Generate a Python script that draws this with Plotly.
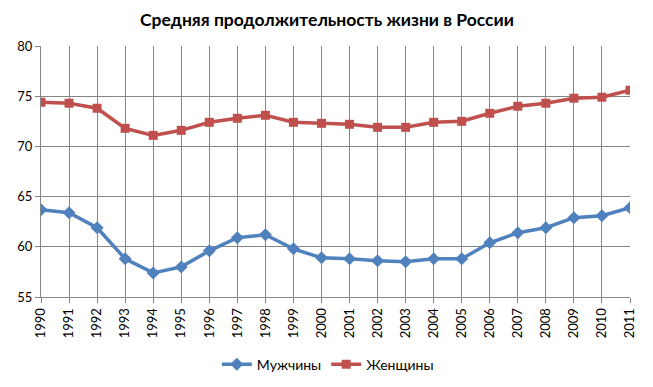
import plotly.graph_objects as go

years = list(range(1990, 2012))
men = [63.7, 63.4, 61.9, 58.8, 57.4, 58.0, 59.6, 60.9, 61.2, 59.8, 58.9,
       58.8, 58.6, 58.5, 58.8, 58.8, 60.4, 61.4, 61.9, 62.9, 63.1, 63.9]
women = [74.4, 74.3, 73.8, 71.8, 71.1, 71.6, 72.4, 72.8, 73.1, 72.4, 72.3,
         72.2, 71.9, 71.9, 72.4, 72.5, 73.3, 74.0, 74.3, 74.8, 74.9, 75.6]
title = "Средняя продолжительность жизни в России"
font = "Lato, Liberation Sans, sans-serif"

fig = go.Figure()
fig.add_trace(go.Scatter(x=years, y=men, name="Мужчины", mode="lines+markers",
                         line=dict(color="#4F81BD", width=3.5),
                         marker=dict(symbol="diamond", size=10, color="#4F81BD")))
fig.add_trace(go.Scatter(x=years, y=women, name="Женщины", mode="lines+markers",
                         line=dict(color="#C0504D", width=3.5),
                         marker=dict(symbol="square", size=9, color="#C0504D")))

fig.update_layout(
    width=653, height=387,
    margin=dict(l=41, r=23, t=46, b=90, autoexpand=False),
    paper_bgcolor="white", plot_bgcolor="white",
    font=dict(family=font, size=13, color="black"),
    title=dict(text="<b>" + title + "</b>", x=327 / 653, xanchor="center", xref="paper",
               yref="container", y=1 - 20 / 387, yanchor="middle",
               font=dict(size=17.5, family=font, color="black")),
    showlegend=True,
    legend=dict(orientation="h", x=0.487, xanchor="center", y=-0.27, yanchor="middle",
                font=dict(size=14), itemwidth=30, traceorder="normal"),
)
fig.layout.title.xref = "container"
fig.update_xaxes(range=[1990, 2011], tickmode="array", tickvals=years,
                 ticktext=[str(y) for y in years], tickangle=-90, automargin=False,
                 showgrid=True, gridcolor="#868686", gridwidth=1,
                 showline=True, linecolor="#868686", linewidth=1,
                 ticks="outside", ticklen=5, tickcolor="#868686", zeroline=False)
fig.update_yaxes(range=[55, 80], tickvals=[55, 60, 65, 70, 75, 80], automargin=False,
                 showgrid=True, gridcolor="#868686", gridwidth=1,
                 showline=True, linecolor="#868686", linewidth=1,
                 ticks="outside", ticklen=5, tickcolor="#868686", zeroline=False)

fig.write_html("out.html", config={"displayModeBar": False},
               post_script="document.body.style.margin='0';")
